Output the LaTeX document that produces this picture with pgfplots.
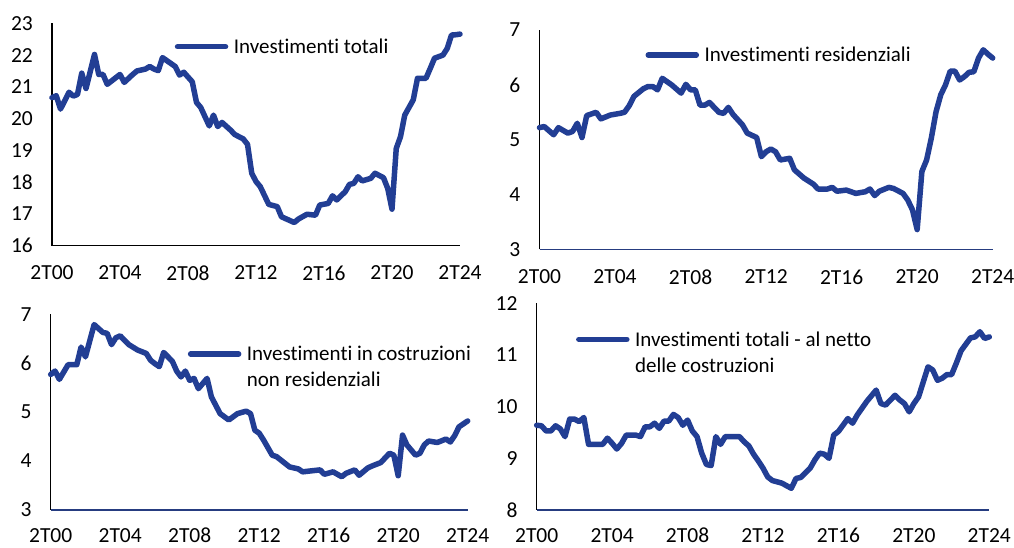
\documentclass[border=0pt]{standalone}
\usepackage{fontspec}
\setmainfont{Carlito}[Ligatures={NoCommon,NoContextual}]
\usepackage{pgfplots}
\pgfplotsset{compat=1.18}
\definecolor{lineblue}{RGB}{34,62,148}
\definecolor{axisblue}{RGB}{38,60,128}
\newcommand\lf{\fontsize{21}{25}\selectfont}
\newcommand\tf{\fontsize{21.5}{26}\selectfont}
\pgfplotsset{
  panel/.style={
    scale only axis, anchor=south west, clip=false,
    xmin=0, xmax=96,
    xtick={0,16,32,48,64,80,96},
    xticklabels={2T00,2T04,2T08,2T12,2T16,2T20,2T24},
    axis x line*=bottom, axis y line*=left,
    major tick length=0pt, tick style={draw=none},
    y axis line style={-, line width=1.2pt, black},
    /pgf/number format/assume math mode=true,
    tick label style={font=\tf, text=black},
    xticklabel style={inner sep=0pt, anchor=north, yshift=-20pt},
    yticklabel style={inner sep=0pt, anchor=east, xshift=-19pt},
    legend style={draw=none, fill=none, inner sep=0pt, outer sep=0pt,
      anchor=north west, font=\lf, row sep=7.6pt, column sep=5.5pt,
      nodes={inner sep=0pt, text height=16pt, text depth=2.4pt}},
    legend cell align=left,
    legend image code/.code={\draw[##1, line width=5.5pt, line cap=round] (0pt,0pt) -- (48pt,0pt);},
  },
  serie/.style={lineblue, line width=5.5pt, line join=round, line cap=round},
}
\begin{document}
\begin{tikzpicture}
\useasboundingbox (0,0) rectangle (1014pt,548pt);
% Panel 1
\begin{axis}[panel, at={(52pt,302.3pt)}, width=408pt, height=222.4pt,
  ymin=16, ymax=23, ytick={16,17,...,23},
  x axis line style={-, line width=1.5pt, black},
  legend style={at={(axis description cs:0.301,0.936)}}]
\addplot[serie] coordinates {(0,20.66)(1,20.72)(2,20.30)(4,20.83)(5,20.71)(6,20.76)(7,21.43)(8,20.95)(10,22.02)(11,21.39)(12,21.39)(13,21.08)(16,21.39)(17,21.14)(19,21.39)(20,21.50)(22,21.56)(23,21.64)(24,21.56)(25,21.51)(26,21.92)(29,21.64)(30,21.37)(31,21.46)(33,21.16)(34,20.51)(35,20.35)(37,19.77)(38,20.11)(39,19.75)(40,19.88)(42,19.64)(43,19.50)(45,19.36)(46,19.19)(47,18.28)(48,18.02)(49,17.86)(51,17.30)(53,17.23)(54,16.91)(57,16.73)(58,16.84)(60,16.99)(62,16.96)(63,17.28)(65,17.33)(66,17.57)(67,17.44)(69,17.70)(70,17.93)(71,17.96)(72,18.17)(73,18.04)(75,18.12)(76,18.28)(78,18.14)(79,17.80)(80,17.15)(81,19.06)(82,19.43)(83,20.11)(84,20.35)(85,20.59)(86,21.27)(88,21.27)(89,21.58)(90,21.90)(92,22.00)(93,22.21)(94,22.63)(95,22.64)(96,22.66)};
\addlegendentry{Investimenti totali}
\end{axis}
% Panel 2
\begin{axis}[panel, at={(539.5pt,298.7pt)}, width=453.2pt, height=219.2pt,
  ymin=3, ymax=7, ytick={3,4,5,6,7},
  x axis line style={-, line width=1.5pt, axisblue},
  legend style={at={(axis description cs:0.234,0.928)}}]
\addplot[serie] coordinates {(0,5.22)(1,5.24)(3,5.09)(4,5.22)(6,5.12)(7,5.15)(8,5.30)(9,5.04)(10,5.44)(12,5.50)(13,5.38)(15,5.45)(17,5.48)(18,5.50)(19,5.62)(20,5.79)(22,5.93)(23,5.97)(24,5.97)(25,5.91)(26,6.12)(28,6.00)(30,5.85)(31,6.01)(32,5.91)(33,5.91)(34,5.63)(35,5.63)(36,5.68)(38,5.50)(39,5.48)(40,5.59)(41,5.46)(43,5.27)(44,5.12)(46,5.04)(47,4.69)(48,4.78)(49,4.83)(50,4.78)(51,4.63)(53,4.66)(54,4.45)(56,4.30)(58,4.19)(59,4.10)(61,4.10)(62,4.13)(63,4.06)(65,4.08)(67,4.02)(69,4.05)(70,4.10)(71,3.98)(72,4.06)(74,4.13)(75,4.11)(77,4.02)(78,3.90)(79,3.72)(80,3.36)(81,4.42)(82,4.63)(83,5.03)(84,5.51)(85,5.82)(86,6.00)(87,6.25)(88,6.25)(89,6.09)(90,6.15)(91,6.23)(92,6.24)(93,6.49)(94,6.64)(95,6.56)(96,6.49)};
\addlegendentry{Investimenti residenziali}
\end{axis}
% Panel 3
\begin{axis}[panel, at={(50.7pt,38pt)}, width=417pt, height=195.7pt,
  ymin=3, ymax=7, ytick={3,4,5,6,7},
  x axis line style={-, line width=1.5pt, axisblue},
  xticklabel style={yshift=2pt},
  legend style={at={(axis description cs:0.329,0.844)}}]
\addplot[serie] coordinates {(0,5.77)(1,5.84)(2,5.67)(4,5.97)(6,5.97)(7,6.33)(8,6.13)(10,6.79)(12,6.63)(13,6.61)(14,6.38)(15,6.52)(16,6.56)(18,6.38)(20,6.27)(22,6.20)(23,6.06)(24,5.99)(25,5.93)(26,6.22)(28,6.04)(29,5.84)(30,5.72)(31,5.84)(32,5.65)(33,5.69)(34,5.48)(36,5.69)(37,5.31)(39,4.97)(41,4.84)(43,4.97)(45,5.02)(46,4.97)(47,4.63)(48,4.57)(49,4.43)(51,4.12)(52,4.09)(55,3.88)(57,3.84)(58,3.78)(60,3.80)(62,3.82)(63,3.73)(65,3.78)(67,3.68)(68,3.75)(70,3.82)(71,3.71)(73,3.86)(74,3.90)(76,3.97)(78,4.16)(79,4.12)(80,3.70)(81,4.53)(82,4.33)(84,4.12)(85,4.16)(86,4.33)(87,4.41)(89,4.38)(91,4.45)(92,4.39)(93,4.52)(94,4.70)(96,4.82)};
\addlegendentry{Investimenti in costruzioni}
\addlegendimage{empty legend}
\addlegendentry{non residenziali}
\end{axis}
% Panel 4
\begin{axis}[panel, at={(536.7pt,38pt)}, width=452.6pt, height=206.7pt,
  ymin=8, ymax=12, ytick={8,9,10,11,12},
  x axis line style={-, line width=1.5pt, axisblue},
  xticklabel style={yshift=2pt},
  legend style={at={(axis description cs:0.087,0.870)}}]
\addplot[serie] coordinates {(0,9.64)(1,9.63)(2,9.53)(3,9.53)(4,9.63)(5,9.57)(6,9.42)(7,9.76)(8,9.76)(9,9.71)(10,9.79)(11,9.27)(12,9.27)(14,9.27)(15,9.39)(16,9.29)(17,9.18)(18,9.29)(19,9.45)(21,9.45)(22,9.42)(23,9.61)(24,9.61)(25,9.68)(26,9.58)(27,9.72)(28,9.72)(29,9.85)(30,9.79)(31,9.64)(32,9.74)(33,9.53)(34,9.42)(35,9.10)(36,8.88)(37,8.86)(38,9.42)(39,9.27)(40,9.42)(43,9.42)(44,9.32)(45,9.24)(46,9.08)(47,8.95)(48,8.81)(49,8.64)(50,8.57)(52,8.52)(54,8.42)(55,8.61)(56,8.63)(58,8.81)(59,8.97)(60,9.10)(61,9.08)(62,9.00)(63,9.45)(64,9.52)(66,9.77)(67,9.68)(68,9.84)(70,10.10)(72,10.32)(73,10.06)(74,10.03)(76,10.22)(77,10.13)(78,10.06)(79,9.90)(80,10.06)(81,10.19)(83,10.77)(84,10.71)(85,10.51)(86,10.55)(87,10.62)(88,10.62)(89,10.84)(90,11.08)(92,11.33)(93,11.35)(94,11.45)(95,11.32)(96,11.35)};
\addlegendentry{Investimenti totali - al netto}
\addlegendimage{empty legend}
\addlegendentry{delle costruzioni}
\end{axis}
\end{tikzpicture}
\end{document}
